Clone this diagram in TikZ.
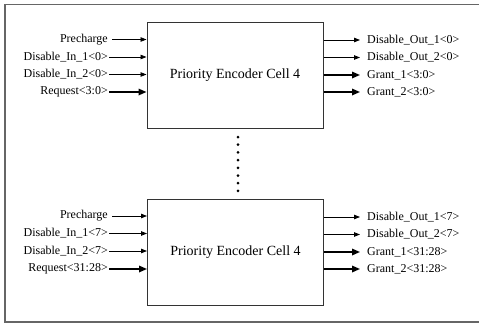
\documentclass[tikz,border=0pt]{standalone}
\usepackage{fontspec}
\setmainfont{Liberation Serif}
\usetikzlibrary{arrows.meta}
\begin{document}
\begin{tikzpicture}[x=1pt,y=-1pt,
  cell/.style={draw=black!80,line width=1pt,minimum width=176pt,minimum height=106pt,inner sep=0pt,font=\fontsize{14}{16}\selectfont},
  lbl/.style={inner sep=1pt,font=\fontsize{12}{14}\selectfont},
  thin/.style={line width=0.8pt,-{Triangle[length=6pt,width=4.5pt]}},
  thick/.style={line width=1.6pt,-{Triangle[length=8pt,width=6.5pt]}},
  dotn/.style={circle,fill=black,inner sep=0pt,minimum size=3pt}]
\useasboundingbox (0,0) rectangle (479,327);
\draw[black!60,line width=1.5pt] (480,4.5) -- (5,4.5) -- (5,322) -- (480,322);
% cells
\node[cell] (c1) at (235,75) {Priority Encoder Cell 4};
\node[cell] (c2) at (235.5,252) {Priority Encoder Cell 4};
% top inputs
\node[lbl,anchor=east] (p1) at (109,39.5) {Precharge};
\node[lbl,anchor=east] (d11) at (109,57) {Disable\_In\_1<0>};
\node[lbl,anchor=east] (d21) at (109,74.5) {Disable\_In\_2<0>};
\node[lbl,anchor=east] (r1) at (109,92) {Request<3:0>};
\coordinate (p1e) at (p1.east -| c1.west);
\coordinate (d11e) at (d11.east -| c1.west);
\coordinate (d21e) at (d21.east -| c1.west);
\coordinate (r1e) at (r1.east -| c1.west);
\draw[thin] ([xshift=3pt]p1.east) -- (p1e);
\draw[thin] (d11.east) -- (d11e);
\draw[thin] (d21.east) -- (d21e);
\draw[thick] (r1.east) -- (r1e);
% top outputs
\node[lbl,anchor=west] (o11) at (366,40) {Disable\_Out\_1<0>};
\node[lbl,anchor=west] (o21) at (366,57.5) {Disable\_Out\_2<0>};
\node[lbl,anchor=west] (g11) at (366,75) {Grant\_1<3:0>};
\node[lbl,anchor=west] (g21) at (366,92) {Grant\_2<3:0>};
\coordinate (o11s) at (o11.west -| c1.east);
\coordinate (o21s) at (o21.west -| c1.east);
\coordinate (g11s) at (g11.west -| c1.east);
\coordinate (g21s) at (g21.west -| c1.east);
\draw[thin] (o11s) -- ([xshift=-6pt]o11.west);
\draw[thin] (o21s) -- ([xshift=-6pt]o21.west);
\draw[thick] (g11s) -- ([xshift=-6pt]g11.west);
\draw[thick] (g21s) -- ([xshift=-6pt]g21.west);
% dots
\foreach \i in {0,...,7} {\node[dotn] (dot\i) at (238,137+7.7*\i) {};}
% bottom inputs
\node[lbl,anchor=east] (p2) at (109,216) {Precharge};
\node[lbl,anchor=east] (d12) at (109,233.5) {Disable\_In\_1<7>};
\node[lbl,anchor=east] (d22) at (109,251) {Disable\_In\_2<7>};
\node[lbl,anchor=east] (r2) at (109,269) {Request<31:28>};
\coordinate (p2e) at (p2.east -| c2.west);
\coordinate (d12e) at (d12.east -| c2.west);
\coordinate (d22e) at (d22.east -| c2.west);
\coordinate (r2e) at (r2.east -| c2.west);
\draw[thin] ([xshift=3pt]p2.east) -- (p2e);
\draw[thin] (d12.east) -- (d12e);
\draw[thin] (d22.east) -- (d22e);
\draw[thick] (r2.east) -- (r2e);
% bottom outputs
\node[lbl,anchor=west] (o12) at (366,217) {Disable\_Out\_1<7>};
\node[lbl,anchor=west] (o22) at (366,234.5) {Disable\_Out\_2<7>};
\node[lbl,anchor=west] (g12) at (366,252) {Grant\_1<31:28>};
\node[lbl,anchor=west] (g22) at (366,269) {Grant\_2<31:28>};
\coordinate (o12s) at (o12.west -| c2.east);
\coordinate (o22s) at (o22.west -| c2.east);
\coordinate (g12s) at (g12.west -| c2.east);
\coordinate (g22s) at (g22.west -| c2.east);
\draw[thin] (o12s) -- ([xshift=-6pt]o12.west);
\draw[thin] (o22s) -- ([xshift=-6pt]o22.west);
\draw[thick] (g12s) -- ([xshift=-6pt]g12.west);
\draw[thick] (g22s) -- ([xshift=-6pt]g22.west);
\end{tikzpicture}
\end{document}
